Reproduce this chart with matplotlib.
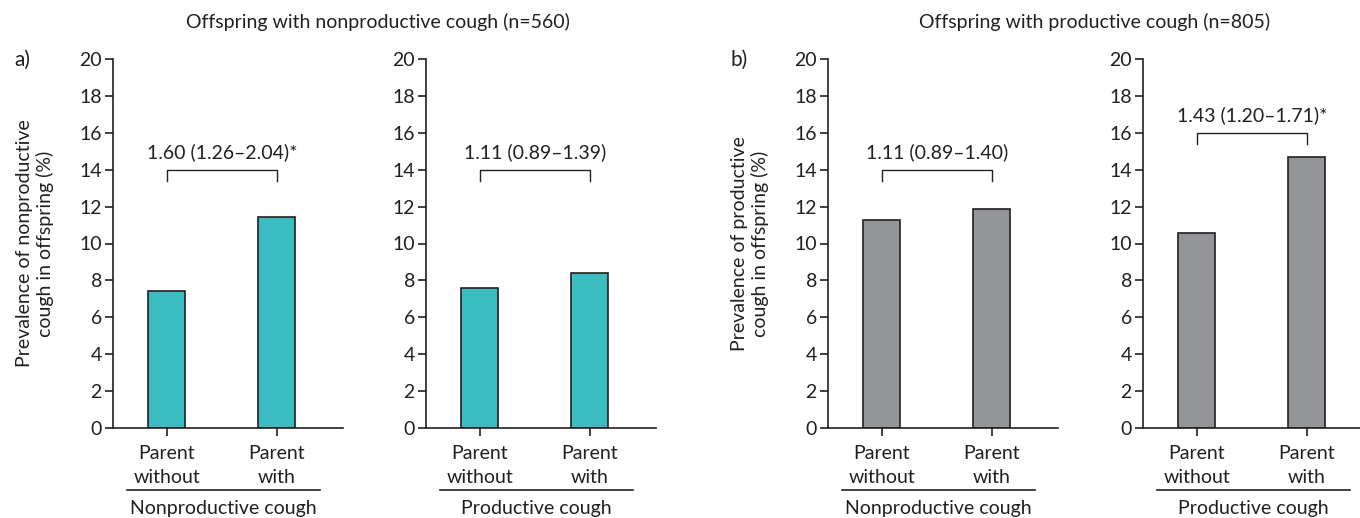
import numpy as np
import matplotlib
matplotlib.use("Agg")
import matplotlib.pyplot as plt

plt.rcParams['font.family'] = ['Lato', 'DejaVu Sans']

# Data
tick_labels = ['Parent\nwithout', 'Parent\nwith']
group_labels = ['Nonproductive cough', 'Productive cough',
                'Nonproductive cough', 'Productive cough']
prev_a_nonprod = [7.4, 11.45]
prev_a_prod = [7.6, 8.4]
prev_b_nonprod = [11.25, 11.85]
prev_b_prod = [10.55, 14.7]
values = [prev_a_nonprod, prev_a_prod, prev_b_nonprod, prev_b_prod]
or_texts = ['1.60 (1.26\u20132.04)*', '1.11 (0.89\u20131.39)',
            '1.11 (0.89\u20131.40)', '1.43 (1.20\u20131.71)*']
bracket_y = [14, 14, 14, 16]

teal = '#3bbcc0'
grey = '#939598'
edge = '#231f20'
colors = [teal, teal, grey, grey]

fig = plt.figure(figsize=(13.6, 5.18), dpi=100)
lefts = [113, 426, 828, 1143]
W, H = 1360, 518

for i in range(4):
    ax = fig.add_axes([lefts[i] / W, 1 - 428 / H, 230 / W, 369 / H])
    x = np.arange(2)
    ax.bar(x, values[i], width=0.336, color=colors[i], edgecolor=edge, linewidth=1.2)
    ax.set_xlim(-0.49, 1.6)
    ax.set_ylim(0, 20)
    ax.set_yticks(np.arange(0, 21, 2))
    ax.set_xticks(x)
    ax.set_xticklabels(tick_labels, linespacing=1.55)
    for s in ['top', 'right']:
        ax.spines[s].set_visible(False)
    for s in ['left', 'bottom']:
        ax.spines[s].set_linewidth(1.2)
        ax.spines[s].set_color(edge)
    ax.tick_params(axis='both', direction='out', length=6, width=1.2,
                   color=edge, labelsize=14, labelcolor='#231f20')
    ax.tick_params(axis='y', pad=2)
    ax.tick_params(axis='x', pad=6)

    # bracket with odds ratio
    by = bracket_y[i]
    ax.plot([0, 0, 1, 1], [by - 0.6, by, by, by - 0.6], color=edge, lw=1.0)
    ax.text(0.5, by + 0.45, or_texts[i], ha='center', va='bottom', fontsize=14,
            color='#231f20')

    # group label under ticks
    trans = ax.get_xaxis_transform()
    ax.plot([-0.36, 1.39], [-0.168, -0.168], color=edge, lw=1.2,
            transform=trans, clip_on=False)
    ax.text(0.515, -0.218, group_labels[i], transform=trans, ha='center', va='center',
            fontsize=14, color='#231f20')

    if i == 0:
        ax.set_ylabel('Prevalence of nonproductive\ncough in offspring (%)',
                      fontsize=14, labelpad=18, color='#231f20')
    if i == 2:
        ax.set_ylabel('Prevalence of productive\ncough in offspring (%)',
                      fontsize=14, labelpad=18, color='#231f20')

fig.text(14 / W, 1 - 60 / H, 'a)', fontsize=15, va='center', ha='left', color='#231f20')
fig.text(731 / W, 1 - 60 / H, 'b)', fontsize=15, va='center', ha='left', color='#231f20')
fig.text(378 / W, 1 - 22 / H, 'Offspring with nonproductive cough (n=560)',
         fontsize=14, ha='center', va='center', color='#231f20')
fig.text(1095 / W, 1 - 22 / H, 'Offspring with productive cough (n=805)',
         fontsize=14, ha='center', va='center', color='#231f20')

fig.savefig('out.png', dpi=100)
